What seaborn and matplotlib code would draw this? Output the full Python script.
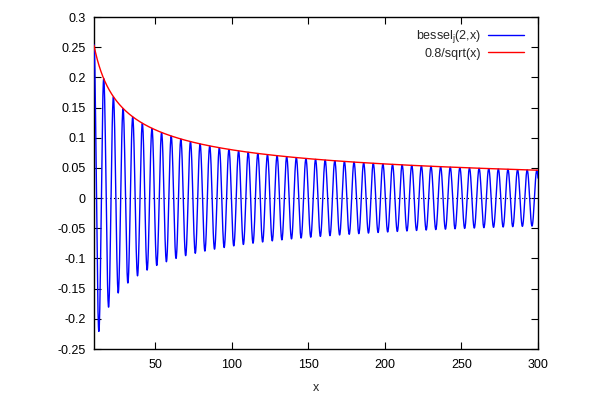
import numpy as np
import pandas as pd
import matplotlib
matplotlib.use("Agg")
import matplotlib.pyplot as plt
import seaborn as sns
from matplotlib.ticker import FuncFormatter, MultipleLocator

# plotted functions, as named in the legend: besselj(2,x) and 0.8/sqrt(x)
bessel_order = 2
envelope_coef = 0.8
x_min, x_max = 10, 300
n_samples = 2000

x_ticks = [50, 100, 150, 200, 250, 300]
y_ticks = [-0.25, -0.2, -0.15, -0.1, -0.05, 0, 0.05, 0.1, 0.15, 0.2, 0.25, 0.3]

labels = ["bessel$_\\mathrm{j}$(2,x)", "0.8/sqrt(x)"]
colors = ["#0000ff", "#ff0000"]


def besselj(n, x):
    # Bessel integral J_n(x) = 1/pi * int_0^pi cos(n t - x sin t) dt
    t = np.linspace(0, np.pi, 3000)
    vals = np.cos(n * t[None, :] - x[:, None] * np.sin(t)[None, :])
    return np.trapezoid(vals, t, axis=1) / np.pi


x = np.linspace(x_min, x_max, n_samples)
df = pd.DataFrame({
    "x": x,
    "bessel": besselj(bessel_order, x),
    "env": envelope_coef / np.sqrt(x),
})

sns.set_style("ticks")
plt.rcParams["font.family"] = ["Liberation Sans", "DejaVu Sans"]
plt.rcParams["mathtext.fontset"] = "custom"
plt.rcParams["mathtext.rm"] = "Liberation Sans"
plt.rcParams["mathtext.it"] = "Liberation Sans"
plt.rcParams["axes.unicode_minus"] = False

fig = plt.figure(figsize=(6, 4), dpi=100)
ax = fig.add_axes([94 / 600, 1 - 349 / 400, (538 - 94) / 600, (349 - 17) / 400])

ax.axhline(0, color="black", lw=0.8, ls=(0, (1, 2.5)), zorder=1)
sns.lineplot(data=df, x="x", y="bessel", ax=ax, color=colors[0], lw=1,
             label=labels[0], zorder=3)
sns.lineplot(data=df, x="x", y="env", ax=ax, color=colors[1], lw=1,
             label=labels[1], zorder=4)

ax.set_xlim(x_min, x_max)
ax.set_ylim(-0.25, 0.3)
ax.set_xticks(x_ticks)
ax.set_yticks(y_ticks)
ax.yaxis.set_major_formatter(FuncFormatter(lambda v, p: f"{v:g}"))
ax.tick_params(direction="in", length=5, width=0.8, top=True, right=True,
               labelsize=9, colors="black", pad=6)
ax.tick_params(axis="x", pad=7)
for sp in ax.spines.values():
    sp.set_linewidth(1)
    sp.set_color("black")

ax.set_xlabel("x", fontsize=9, labelpad=8)
ax.set_ylabel("")

ax.legend(loc="upper right", bbox_to_anchor=(530 / 600, 1 - 22 / 400),
          bbox_transform=fig.transFigure, frameon=False, markerfirst=False,
          fontsize=9, handlelength=2.9, handletextpad=0.5, labelspacing=0.2,
          borderpad=0)

fig.savefig("out.png", dpi=100)
